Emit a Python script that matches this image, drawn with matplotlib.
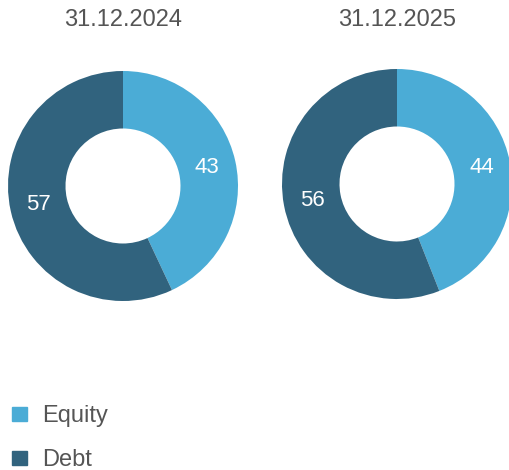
import matplotlib
matplotlib.use("Agg")
import matplotlib.pyplot as plt
from matplotlib.patches import Rectangle

plt.rcParams['font.family'] = ['Liberation Sans', 'DejaVu Sans']

dates = ['31.12.2024', '31.12.2025']
series = ['Equity', 'Debt']
equity = [43, 44]
debt = [57, 56]
colors = ['#4BACD6', '#31637E']

W, H = 509, 470
fig = plt.figure(figsize=(W / 100, H / 100), dpi=100)

centers = [(123, 186), (397, 184)]
R = 115
for i, (cx, cy) in enumerate(centers):
    ax = fig.add_axes([(cx - R) / W, (H - cy - R) / H, 2 * R / W, 2 * R / H])
    vals = [equity[i], debt[i]]
    wedges, texts = ax.pie(vals, colors=colors, startangle=90, counterclock=False,
                           radius=1, wedgeprops=dict(width=0.5, linewidth=0),
                           labels=[str(v) for v in vals], labeldistance=0.75,
                           textprops=dict(color='white', fontsize=16, ha='center', va='center'))
    ax.set_xlim(-1, 1)
    ax.set_ylim(-1, 1)
    ax.set_aspect('equal')
    ax.axis('off')
    fig.text(cx / W, 1 - 20 / H, dates[i], ha='center', va='center',
             fontsize=17, color='#555555')

# legend drawn by hand to match spacing
for j, (name, c) in enumerate(zip(series, colors)):
    base = 422 + 44 * j
    fig.patches.append(Rectangle((12 / W, 1 - (base - 1) / H), 15 / W, 14 / H,
                                 transform=fig.transFigure, color=c))
    fig.text(42 / W, 1 - base / H, name, ha='left', va='baseline',
             fontsize=17, color='#555555')

fig.savefig('out.png', dpi=100)
